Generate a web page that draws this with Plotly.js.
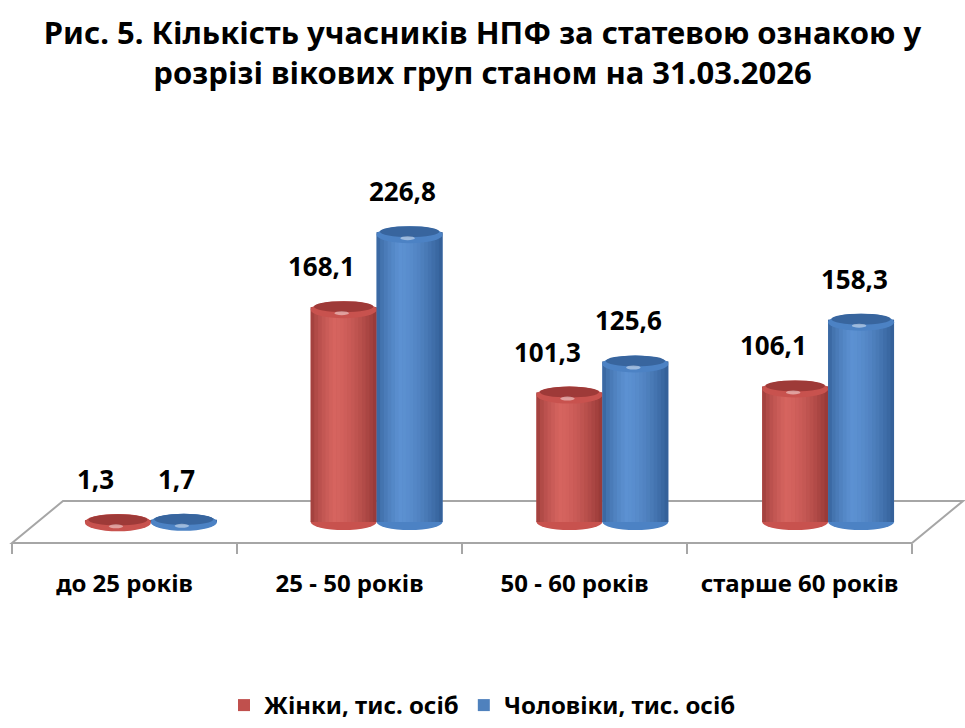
<!DOCTYPE html>
<html><head><meta charset="utf-8">
<script src="https://cdn.plot.ly/plotly-3.0.1.min.js"></script>
<style>html,body{margin:0;padding:0;background:#fff}#chart{width:965px;height:728px}</style>
</head><body><div id="chart"></div>
<script>
const categories = ['до 25 років', '25 - 50 років', '50 - 60 років', 'старше 60 років'];
const women = [1.3, 168.1, 101.3, 106.1];
const men = [1.7, 226.8, 125.6, 158.3];
const seriesNames = ['Жінки, тис. осіб', 'Чоловіки, тис. осіб'];
const titleText = 'Рис. 5. Кількість учасників НПФ за статевою ознакою у<br>розрізі вікових груп станом на 31.03.2026';

const FONT = "'Noto Sans', sans-serif";
const W = 965, H = 728;
const barW = 0.292;           // bar width in category units
const styles = [
  {edge:[150,56,54], mid:[200,82,78], hi:[214,100,95], cap:[158,58,56], legend:'#C0504D', lx:-22},
  {edge:[50,94,150], mid:[76,130,196], hi:[92,145,210], cap:[56,101,158], legend:'#4F81BD', lx:-7}
];
function rgb(c){return 'rgb('+c.map(v=>Math.round(v)).join(',')+')';}
function mix(a,b,t){return a.map((v,i)=>v+(b[i]-v)*t);}
function shade(st,t){
  if(t<0.35){return mix(st.edge, st.hi, Math.pow(t/0.35,0.6));}
  return mix(st.hi, st.edge, Math.pow((t-0.35)/0.65,1.6));
}
const fmt = v => v.toFixed(1).replace('.', ',');

const series = [women, men];
const traces = [{
  type:'scatter', x:categories, y:[0,0,0,0], xaxis:'x', yaxis:'y',
  mode:'markers', marker:{opacity:0}, showlegend:false, hoverinfo:'skip'
}];
series.forEach((vals,s)=>{
  traces.push({type:'bar', name:seriesNames[s], x:categories, y:vals, xaxis:'x2', yaxis:'y',
    marker:{color:styles[s].legend, line:{width:0}}, hovertemplate:'%{x}: %{y}<extra>'+seriesNames[s]+'</extra>'});
});

const shapes = [];
const px = (x)=>x/W, py=(y)=>(H-y)/H;
shapes.push({type:'path', xref:'paper', yref:'paper', layer:'below',
  path:`M ${px(12)},${py(543)} L ${px(63)},${py(501)} L ${px(963)},${py(501)} L ${px(912)},${py(543)} Z`,
  fillcolor:'#ffffff', line:{color:'#a6a6a6', width:2}});

const annotations = [];
const N = 18;
categories.forEach((c,i)=>{
  series.forEach((vals,s)=>{
    const st = styles[s];
    const v = vals[i];
    const cx = i + (s===0 ? -barW/2 : barW/2);
    const x0 = cx - barW/2, x1 = cx + barW/2;
    shapes.push({type:'circle', xref:'x2', yref:'y', layer:'above', x0:x0, x1:x1,
      ysizemode:'pixel', yanchor:0, y0:-8, y1:8, fillcolor:rgb(st.mid), line:{width:0}});
    for(let k=0;k<N;k++){
      const t=(k+0.5)/N;
      const a = x0 + (x1-x0)*k/N, b = x0 + (x1-x0)*(k+1)/N + 0.002;
      shapes.push({type:'rect', xref:'x2', yref:'y', layer:'above', x0:a, x1:Math.min(b,x1), y0:0, y1:v,
        fillcolor:rgb(shade(st,t)), line:{width:0}});
    }
    shapes.push({type:'circle', xref:'x2', yref:'y', layer:'above', x0:x0, x1:x1,
      ysizemode:'pixel', yanchor:v, y0:-11, y1:6, fillcolor:rgb(st.mid), line:{width:0}});
    shapes.push({type:'circle', xref:'x2', yref:'y', layer:'above', x0:x0+barW*0.05, x1:x1-barW*0.05,
      ysizemode:'pixel', yanchor:v, y0:-5, y1:6, fillcolor:rgb(st.cap), line:{width:0}});
    shapes.push({type:'circle', xref:'x2', yref:'y', layer:'above', x0:cx-barW*0.14, x1:cx+barW*0.08,
      ysizemode:'pixel', yanchor:v, y0:-8, y1:-4, fillcolor:'rgba(255,255,255,0.45)', line:{width:0}});
    annotations.push({xref:'x2', yref:'y', x:cx, y:v, yshift:41, xshift:st.lx, showarrow:false,
      text:fmt(v), font:{family:FONT, size:26, color:'#000', weight:'bold'}});
  });
});

const k = 1.278;
const yMin = -(543-522)/k, yMax = (522-120)/k;

const layout = {
  width:W, height:H, margin:{l:0,r:0,t:0,b:0},
  paper_bgcolor:'#fff', plot_bgcolor:'rgba(0,0,0,0)',
  font:{family:FONT, color:'#000'},
  title:{text:titleText, x:0.5, xanchor:'center', y:py(44), yanchor:'middle',
    font:{family:FONT, size:31, weight:'bold', color:'#000'}},
  barmode:'group', bargap:1-2*barW, bargroupgap:0,
  xaxis:{type:'category', domain:[px(12), px(912)], anchor:'y', range:[-0.5,3.5],
    showgrid:false, zeroline:false, showline:false, ticks:'outside', tickson:'boundaries',
    ticklen:10, tickwidth:2, tickcolor:'#a6a6a6', ticklabelstandoff:24,
    tickfont:{family:FONT, size:24, weight:'bold', color:'#000'}, fixedrange:true},
  xaxis2:{type:'category', domain:[px(38), px(941)], anchor:'y', range:[-0.5,3.5], visible:false},
  yaxis:{domain:[py(543), py(120)], range:[yMin,yMax], visible:false, fixedrange:true},
  legend:{orientation:'h', x:0.5, xanchor:'center', y:0, yanchor:'bottom',
    font:{family:FONT, size:24, weight:'bold', color:'#000'}, itemwidth:30, tracegroupgap:0},
  shapes:shapes, annotations:annotations, showlegend:true
};
Plotly.newPlot('chart', traces, layout, {displayModeBar:false, staticPlot:true});
</script></body></html>
